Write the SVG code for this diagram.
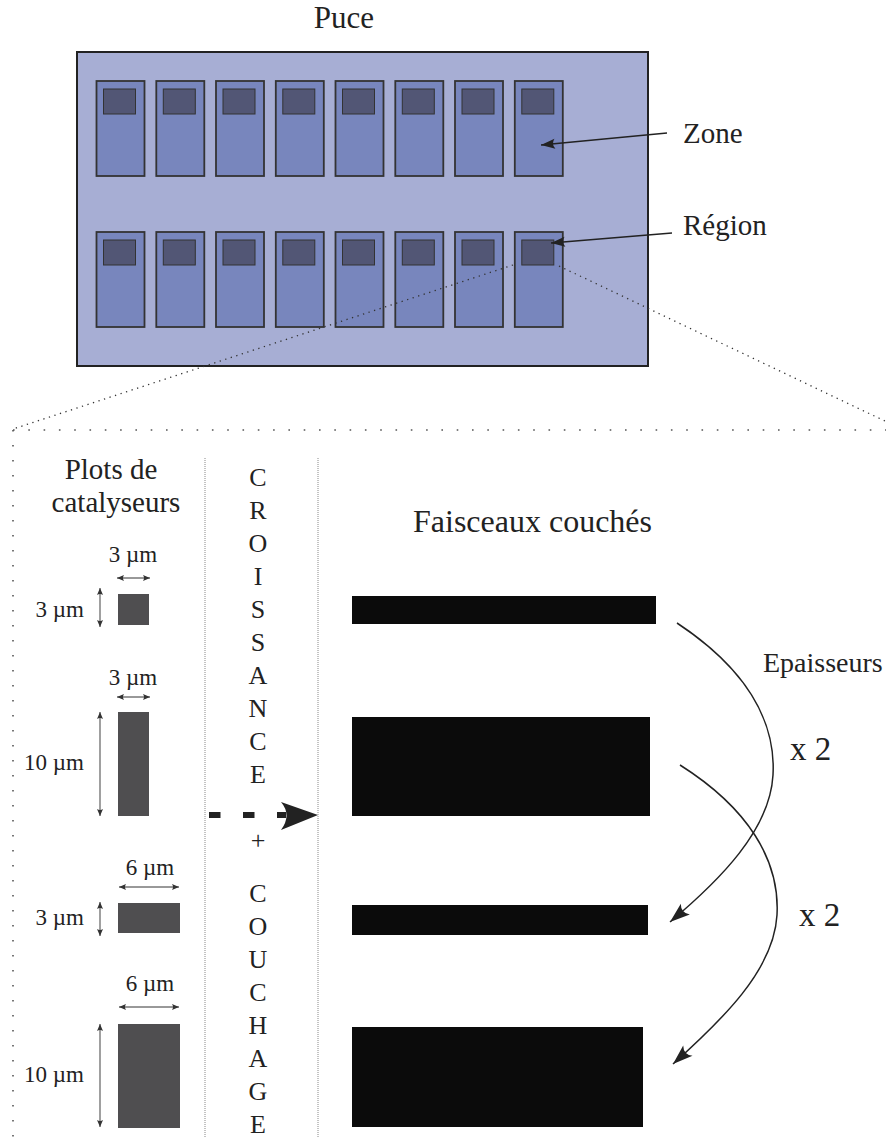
<svg xmlns="http://www.w3.org/2000/svg" width="891" height="1137" viewBox="0 0 891 1137">
<style>
text{font-family:"Liberation Serif","Times New Roman",serif;fill:#222}
.zone{fill:#7886bd;stroke:#333;stroke-width:1.8}
.reg{fill:#525675;stroke:#333;stroke-width:1}
.plot{fill:#4f4e50}
.bar{fill:#0b0b0b}
.dim{stroke:#333;stroke-width:1;fill:none}
.dimv{stroke:#777;stroke-width:1.4;fill:none}
.dots{stroke:#555;stroke-width:1.6;fill:none}
.sep{stroke:#888;stroke-width:1;stroke-dasharray:1 1;fill:none}
.lbl{font-size:23px}
.let{font-size:26px}
</style>
<defs>
<marker id="barb" markerUnits="userSpaceOnUse" orient="auto" refX="0" refY="0" markerWidth="30" markerHeight="30" overflow="visible">
<path d="M0,0 L-20,-7 Q-14,0 -20,7 Z" fill="#222"/>
</marker>
<marker id="barbS" markerUnits="userSpaceOnUse" orient="auto" refX="0" refY="0" markerWidth="20" markerHeight="20" overflow="visible">
<path d="M0,0 L-14,-5 Q-10,0 -14,5 Z" fill="#222"/>
</marker>
<marker id="dimA" markerUnits="userSpaceOnUse" orient="auto-start-reverse" refX="0" refY="0" markerWidth="12" markerHeight="12" overflow="visible">
<path d="M0,0 L-7,-3 Q-5,0 -7,3 Z" fill="#333"/>
</marker>
</defs>

<text x="344" y="28" font-size="31" text-anchor="middle">Puce</text>

<g id="chip">
<rect x="77" y="52" width="571" height="314" fill="#a7aed4" stroke="#222" stroke-width="2"/>
<g id="zones-row1">
<rect class="zone" x="96.5" y="81" width="48" height="95"/><rect class="reg" x="103.5" y="89" width="32" height="25"/>
<rect class="zone" x="156.3" y="81" width="48" height="95"/><rect class="reg" x="163.3" y="89" width="32" height="25"/>
<rect class="zone" x="216" y="81" width="48" height="95"/><rect class="reg" x="223" y="89" width="32" height="25"/>
<rect class="zone" x="275.8" y="81" width="48" height="95"/><rect class="reg" x="282.8" y="89" width="32" height="25"/>
<rect class="zone" x="335.5" y="81" width="48" height="95"/><rect class="reg" x="342.5" y="89" width="32" height="25"/>
<rect class="zone" x="395.3" y="81" width="48" height="95"/><rect class="reg" x="402.3" y="89" width="32" height="25"/>
<rect class="zone" x="455" y="81" width="48" height="95"/><rect class="reg" x="462" y="89" width="32" height="25"/>
<rect class="zone" x="514.8" y="81" width="48" height="95"/><rect class="reg" x="521.8" y="89" width="32" height="25"/>
</g>
<g id="zones-row2">
<rect class="zone" x="96.5" y="232" width="48" height="95"/><rect class="reg" x="103.5" y="240" width="32" height="25"/>
<rect class="zone" x="156.3" y="232" width="48" height="95"/><rect class="reg" x="163.3" y="240" width="32" height="25"/>
<rect class="zone" x="216" y="232" width="48" height="95"/><rect class="reg" x="223" y="240" width="32" height="25"/>
<rect class="zone" x="275.8" y="232" width="48" height="95"/><rect class="reg" x="282.8" y="240" width="32" height="25"/>
<rect class="zone" x="335.5" y="232" width="48" height="95"/><rect class="reg" x="342.5" y="240" width="32" height="25"/>
<rect class="zone" x="395.3" y="232" width="48" height="95"/><rect class="reg" x="402.3" y="240" width="32" height="25"/>
<rect class="zone" x="455" y="232" width="48" height="95"/><rect class="reg" x="462" y="240" width="32" height="25"/>
<rect class="zone" x="514.8" y="232" width="48" height="95"/><rect class="reg" x="521.8" y="240" width="32" height="25"/>
</g>
</g>

<text x="683" y="143" font-size="29">Zone</text>
<text x="683" y="235" font-size="29">Région</text>

<g id="connectors">
<line x1="667" y1="133" x2="541" y2="145" stroke="#222" stroke-width="1.6" marker-end="url(#barbS)"/>
<line x1="672" y1="233" x2="551" y2="243" stroke="#222" stroke-width="1.6" marker-end="url(#barbS)"/>
<line x1="513" y1="265" x2="13" y2="429" stroke="#333" stroke-width="1.3" stroke-dasharray="1.3 4.5"/>
<line x1="559" y1="266" x2="887" y2="422" stroke="#333" stroke-width="1.3" stroke-dasharray="1.3 4.5"/>
<path d="M677,623 C745,668 776,720 773,775 C770,830 720,880 670,922" fill="none" stroke="#222" stroke-width="1.5" marker-end="url(#barb)"/>
<path d="M680,765 C748,808 780,860 777,915 C774,970 722,1020 673,1064" fill="none" stroke="#222" stroke-width="1.5" marker-end="url(#barb)"/>
<line x1="209" y1="815" x2="286" y2="815" stroke="#222" stroke-width="6" stroke-dasharray="11.5 22.5"/>
<path d="M318,815 L281,802 Q292,815 281,830 Z" fill="#222"/>
</g>

<g id="frame">
<line class="dots" x1="13" y1="430" x2="886" y2="430" stroke-dasharray="1.6 13.7"/>
<line class="dots" x1="13" y1="430" x2="13" y2="1137" stroke-dasharray="1.6 13.4"/>
<line class="sep" x1="205" y1="458" x2="205" y2="1137"/>
<line class="sep" x1="318" y1="458" x2="318" y2="1137"/>
</g>

<g id="plots-title">
<text x="111" y="479" font-size="29" text-anchor="middle">Plots de</text>
<text x="116" y="512" font-size="29" text-anchor="middle">catalyseurs</text>
</g>

<g id="plots">
<rect class="plot" x="118" y="594" width="31" height="31"/>
<line class="dim" x1="117" y1="578" x2="150" y2="578" marker-start="url(#dimA)" marker-end="url(#dimA)"/>
<line class="dimv" x1="100" y1="588" x2="100" y2="627" marker-start="url(#dimA)" marker-end="url(#dimA)"/>
<text class="lbl" x="133" y="562" text-anchor="middle">3 µm</text>
<text class="lbl" x="84" y="617" text-anchor="end">3 µm</text>

<rect class="plot" x="118" y="712" width="31" height="104"/>
<line class="dim" x1="117" y1="697" x2="150" y2="697" marker-start="url(#dimA)" marker-end="url(#dimA)"/>
<line class="dimv" x1="100" y1="712" x2="100" y2="816" marker-start="url(#dimA)" marker-end="url(#dimA)"/>
<text class="lbl" x="133" y="685" text-anchor="middle">3 µm</text>
<text class="lbl" x="84" y="770" text-anchor="end">10 µm</text>

<rect class="plot" x="118" y="903" width="62" height="30"/>
<line class="dim" x1="119" y1="887" x2="179" y2="887" marker-start="url(#dimA)" marker-end="url(#dimA)"/>
<line class="dimv" x1="100" y1="902" x2="100" y2="936" marker-start="url(#dimA)" marker-end="url(#dimA)"/>
<text class="lbl" x="150" y="875" text-anchor="middle">6 µm</text>
<text class="lbl" x="84" y="925" text-anchor="end">3 µm</text>

<rect class="plot" x="118" y="1024" width="62" height="104"/>
<line class="dim" x1="119" y1="1007" x2="179" y2="1007" marker-start="url(#dimA)" marker-end="url(#dimA)"/>
<line class="dimv" x1="100" y1="1024" x2="100" y2="1127" marker-start="url(#dimA)" marker-end="url(#dimA)"/>
<text class="lbl" x="150" y="991" text-anchor="middle">6 µm</text>
<text class="lbl" x="84" y="1082" text-anchor="end">10 µm</text>
</g>

<g id="process" class="let" text-anchor="middle">
<text x="258" y="486">C</text>
<text x="258" y="519">R</text>
<text x="258" y="552">O</text>
<text x="258" y="585">I</text>
<text x="258" y="618">S</text>
<text x="258" y="651">S</text>
<text x="258" y="684">A</text>
<text x="258" y="717">N</text>
<text x="258" y="750">C</text>
<text x="258" y="783">E</text>
<text x="258" y="849">+</text>
<text x="258" y="902">C</text>
<text x="258" y="935">O</text>
<text x="258" y="968">U</text>
<text x="258" y="1001">C</text>
<text x="258" y="1034">H</text>
<text x="258" y="1067">A</text>
<text x="258" y="1100">G</text>
<text x="258" y="1133">E</text>
</g>

<text x="413" y="532" font-size="32">Faisceaux couchés</text>

<g id="faisceaux">
<rect class="bar" x="352" y="596" width="304" height="28"/>
<rect class="bar" x="352" y="717" width="298" height="99"/>
<rect class="bar" x="352" y="905" width="296" height="30"/>
<rect class="bar" x="352" y="1027" width="291" height="100"/>
</g>

<text x="763" y="672" font-size="28">Epaisseurs</text>
<text x="790" y="760" font-size="33">x 2</text>
<text x="799" y="926" font-size="33">x 2</text>
</svg>
